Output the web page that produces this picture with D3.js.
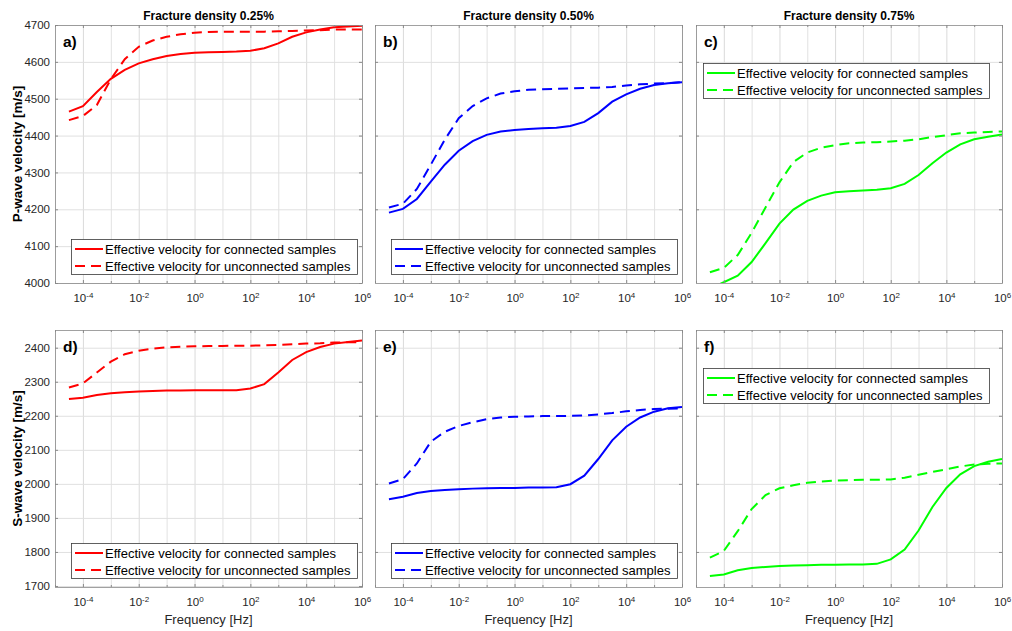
<!DOCTYPE html>
<html lang='en'>
<head>
  <meta charset='UTF-8'>
  <title>Effective velocity vs frequency</title>
  <style type='text/css'>
    body {
      margin: 0;
      background: #fff;
    }
    svg text {
      font-family: 'Liberation Sans', Arial, sans-serif;
    }
    .domain {
      display: none;
    }
  </style>
  <script type='text/javascript' src='https://d3js.org/d3.v7.min.js'></script>
</head>
<body>
  <script type='text/javascript'>
    // frequencies of the computed points (half-decade steps)
    const freqHz = [3.16e-5, 1e-4, 3.16e-4, 1e-3, 3.16e-3, 1e-2, 3.16e-2, 0.1, 0.316, 1, 3.16, 10,
      31.6, 100, 316, 1000, 3160, 1e4, 3.16e4, 1e5, 3.16e5, 1e6]

    const densities = ['0.25%', '0.50%', '0.75%']
    const panelLetters = [['a)', 'b)', 'c)'], ['d)', 'e)', 'f)']]
    const legendLabels = ['Effective velocity for connected samples', 'Effective velocity for unconnected samples']

    // P-wave velocity [m/s]
    const pConn025 = [4465, 4480, 4518, 4554, 4578, 4596, 4607, 4616, 4621, 4625, 4626, 4627, 4628, 4630, 4637, 4650, 4668, 4680, 4688, 4694, 4696, 4698]
    const pUnconn025 = [4442, 4453, 4483, 4553, 4607, 4641, 4658, 4668, 4675, 4679, 4681, 4682, 4682, 4682, 4682, 4683, 4684, 4685, 4686, 4688, 4688, 4688]
    const pConn050 = [4191, 4201, 4228, 4275, 4321, 4359, 4385, 4402, 4411, 4415, 4418, 4420, 4421, 4426, 4437, 4461, 4492, 4512, 4527, 4537, 4542, 4545]
    const pUnconn050 = [4205, 4215, 4255, 4321, 4389, 4447, 4480, 4501, 4514, 4520, 4524, 4526, 4527, 4528, 4529, 4530, 4532, 4536, 4539, 4541, 4542, 4545]
    const pConn075 = [3985, 4002, 4020, 4057, 4108, 4161, 4199, 4223, 4237, 4246, 4249, 4251, 4253, 4257, 4269, 4293, 4325, 4354, 4376, 4390, 4397, 4403]
    const pUnconn075 = [4029, 4041, 4076, 4136, 4205, 4273, 4328, 4354, 4367, 4374, 4379, 4381, 4382, 4384, 4386, 4390, 4396, 4401, 4406, 4408, 4410, 4411]

    // S-wave velocity [m/s]
    const sConn025 = [2249, 2253, 2261, 2266, 2269, 2271, 2273, 2274, 2274, 2275, 2275, 2275, 2275, 2280, 2293, 2327, 2364, 2387, 2402, 2412, 2417, 2421]
    const sUnconn025 = [2283, 2295, 2327, 2359, 2381, 2391, 2397, 2401, 2403, 2404, 2405, 2405, 2406, 2406, 2407, 2408, 2410, 2412, 2413, 2415, 2416, 2416]
    const sConn050 = [1955, 1962, 1973, 1979, 1982, 1984, 1986, 1987, 1988, 1988, 1989, 1989, 1990, 1999, 2024, 2073, 2128, 2168, 2195, 2212, 2222, 2226]
    const sUnconn050 = [2001, 2014, 2060, 2124, 2153, 2170, 2181, 2190, 2195, 2197, 2198, 2199, 2199, 2200, 2201, 2204, 2208, 2213, 2217, 2220, 2221, 2222]
    const sConn075 = [1729, 1734, 1746, 1753, 1756, 1759, 1760, 1761, 1762, 1762, 1763, 1763, 1765, 1778, 1807, 1863, 1932, 1988, 2028, 2052, 2065, 2073]
    const sUnconn075 = [1783, 1803, 1861, 1926, 1967, 1987, 1996, 2003, 2007, 2010, 2011, 2012, 2012, 2013, 2018, 2027, 2035, 2043, 2051, 2057, 2059, 2060]

    // ticks
    const freqDomain = [1e-5, 1e6]
    const xTickValues = [1e-4, 1e-2, 1, 1e2, 1e4, 1e6]
    const pDomain = [4000, 4700]
    const sDomain = [1697, 2452]
    const pTicksLabelled = [4000, 4100, 4200, 4300, 4400, 4500, 4600, 4700]
    const pTicksSparse = [4200, 4400, 4600]
    const sTicksLabelled = [1700, 1800, 1900, 2000, 2100, 2200, 2300, 2400]
    const sTicksSparse = [1800, 2000, 2200, 2400]

    const colors = ['#ff0000', '#0000ff', '#00ff00']

    const cols = [[55, 362], [375, 682], [696, 1002]]
    const rows = [
      {y0: 25, y1: 283, domain: pDomain, label: 'P-wave velocity [m/s]',
        conn: [pConn025, pConn050, pConn075], unconn: [pUnconn025, pUnconn050, pUnconn075],
        ticks: [pTicksLabelled, pTicksSparse, pTicksSparse], legendTop: [false, false, true]},
      {y0: 330, y1: 587, domain: sDomain, label: 'S-wave velocity [m/s]',
        conn: [sConn025, sConn050, sConn075], unconn: [sUnconn025, sUnconn050, sUnconn075],
        ticks: [sTicksLabelled, sTicksSparse, sTicksSparse], legendTop: [false, false, true]}
    ]

    const svg = d3.select('body').append('svg')
      .attr('width', 1012)
      .attr('height', 631)

    const textColor = '#262626'
    const axisColor = '#8a8a8a'

    const drawPanel = (ri, ci) => {
      const row = rows[ri]
      const [x0, x1] = cols[ci]
      const {y0, y1} = row
      const h = y1 - y0
      const w = x1 - x0
      const x = d3.scaleLog().domain(freqDomain).range([x0, x1])
      const y = d3.scaleLinear().domain(row.domain).range([y1, y0])
      const minorTicks = x.ticks().filter(t => !xTickValues.some(v => Math.abs(v - t) / v < 1e-9))
      const g = svg.append('g')

      g.append('rect')
        .attr('x', x0).attr('y', y0).attr('width', w).attr('height', h)
        .attr('fill', '#fff')

      // minor vertical grid
      g.append('g')
        .attr('transform', `translate(0,${y1})`)
        .call(d3.axisBottom(x).tickValues(minorTicks).tickSize(-h).tickFormat(''))
        .call(s => s.selectAll('line').attr('stroke', '#e2e2e2').attr('stroke-width', 1))

      // major grid
      g.append('g')
        .attr('transform', `translate(0,${y1})`)
        .call(d3.axisBottom(x).tickValues(xTickValues).tickSize(-h).tickFormat(''))
        .call(s => s.selectAll('line').attr('stroke', '#dadada'))
      g.append('g')
        .attr('transform', `translate(${x0},0)`)
        .call(d3.axisLeft(y).tickValues(row.ticks[ci]).tickSize(-w).tickFormat(''))
        .call(s => s.selectAll('line').attr('stroke', '#e0e0e0'))

      // curves
      const clipId = `clip-${ri}-${ci}`
      svg.append('clipPath').attr('id', clipId)
        .append('rect').attr('x', x0).attr('y', y0).attr('width', w).attr('height', h)

      const line = d3.line()
        .x((d, i) => x(freqHz[i]))
        .y(d => y(d))

      const series = [
        {values: row.conn[ci], dash: null},
        {values: row.unconn[ci], dash: '10,6'}
      ]
      g.append('g').attr('clip-path', `url(#${clipId})`)
        .selectAll('path')
        .data(series)
        .enter().append('path')
        .attr('d', d => line(d.values))
        .attr('fill', 'none')
        .attr('stroke', colors[ci])
        .attr('stroke-width', 2)
        .attr('stroke-dasharray', d => d.dash)

      // box
      g.append('rect')
        .attr('x', x0 + 0.5).attr('y', y0 + 0.5).attr('width', w).attr('height', h)
        .attr('fill', 'none')
        .attr('stroke', axisColor)
        .attr('stroke-width', 0.8)

      // minor ticks bottom/top
      g.append('g')
        .attr('transform', `translate(0,${y1})`)
        .call(d3.axisBottom(x).tickValues(minorTicks).tickSize(-2).tickFormat(''))
        .call(s => s.selectAll('line').attr('stroke', axisColor))
      g.append('g')
        .attr('transform', `translate(0,${y0})`)
        .call(d3.axisTop(x).tickValues(minorTicks).tickSize(-2).tickFormat(''))
        .call(s => s.selectAll('line').attr('stroke', axisColor))
      g.append('g')
        .attr('transform', `translate(0,${y0})`)
        .call(d3.axisTop(x).tickValues(xTickValues).tickSize(-3).tickFormat(''))
        .call(s => s.selectAll('line').attr('stroke', axisColor))

      // x axis with labels
      const xAxisG = g.append('g')
        .attr('transform', `translate(0,${y1})`)
        .call(d3.axisBottom(x).tickValues(xTickValues).tickSizeInner(-3).tickSizeOuter(0).tickPadding(11))
      xAxisG.selectAll('line').attr('stroke', axisColor)
      xAxisG.selectAll('text')
        .attr('fill', textColor)
        .attr('font-size', 11.5)
        .each(function(d) {
          const t = d3.select(this)
          t.text('')
          t.append('tspan').text('10')
          t.append('tspan')
            .attr('dy', '-0.55em')
            .attr('font-size', 8)
            .text(Math.round(Math.log10(d)))
        })

      // y axis
      const yAxisG = g.append('g')
        .attr('transform', `translate(${x0},0)`)
        .call(d3.axisLeft(y).tickValues(row.ticks[ci]).tickSizeInner(-3).tickSizeOuter(0).tickPadding(5)
          .tickFormat(ci === 0 ? d3.format('d') : ''))
      yAxisG.selectAll('line').attr('stroke', axisColor)
      yAxisG.selectAll('text').attr('fill', textColor).attr('font-size', 11.5)
      g.append('g')
        .attr('transform', `translate(${x1},0)`)
        .call(d3.axisRight(y).tickValues(row.ticks[ci]).tickSize(-3).tickFormat(''))
        .call(s => s.selectAll('line').attr('stroke', axisColor))

      // panel letter
      g.append('text')
        .attr('x', x0 + 8)
        .attr('y', y0 + 22)
        .attr('font-size', 15.5)
        .attr('font-weight', 'bold')
        .attr('fill', '#000')
        .text(panelLetters[ri][ci])

      // legend
      const lw = 286
      const lh = 35
      const lx = row.legendTop[ci] ? x0 + 7 : x0 + 16
      const ly = row.legendTop[ci] ? y0 + 38 : y1 - lh - 9
      const legend = g.append('g').attr('transform', `translate(${lx},${ly})`)
      legend.append('rect')
        .attr('x', 0.5).attr('y', 0.5).attr('width', lw).attr('height', lh)
        .attr('fill', '#fff')
        .attr('stroke', '#3a3a3a')
        .attr('stroke-width', 0.8)
      const items = legend.selectAll('.item')
        .data(series)
        .enter().append('g')
        .attr('class', 'item')
        .attr('transform', (d, i) => `translate(0,${10 + i * 17})`)
      items.append('line')
        .attr('x1', 4).attr('x2', 32)
        .attr('y1', 0).attr('y2', 0)
        .attr('stroke', colors[ci])
        .attr('stroke-width', 2)
        .attr('stroke-dasharray', d => d.dash)
      items.append('text')
        .attr('x', 34)
        .attr('y', 0)
        .attr('dy', '0.36em')
        .attr('font-size', 13)
        .attr('fill', '#000')
        .text((d, i) => legendLabels[i])

      // titles & labels
      if (ri === 0) {
        svg.append('text')
          .attr('x', (x0 + x1) / 2)
          .attr('y', 20)
          .attr('text-anchor', 'middle')
          .attr('font-size', 12)
          .attr('font-weight', 'bold')
          .attr('fill', '#000')
          .text(`Fracture density ${densities[ci]}`)
      } else {
        svg.append('text')
          .attr('x', (x0 + x1) / 2)
          .attr('y', 624)
          .attr('text-anchor', 'middle')
          .attr('font-size', 13)
          .attr('fill', textColor)
          .text('Frequency [Hz]')
      }
      if (ci === 0) {
        svg.append('text')
          .attr('transform', `translate(22,${(y0 + y1) / 2}) rotate(-90)`)
          .attr('text-anchor', 'middle')
          .attr('font-size', 13.5)
          .attr('font-weight', 'bold')
          .attr('fill', '#000')
          .text(row.label)
      }
    }

    rows.forEach((row, ri) => cols.forEach((c, ci) => drawPanel(ri, ci)))
  </script>
</body>
</html>
